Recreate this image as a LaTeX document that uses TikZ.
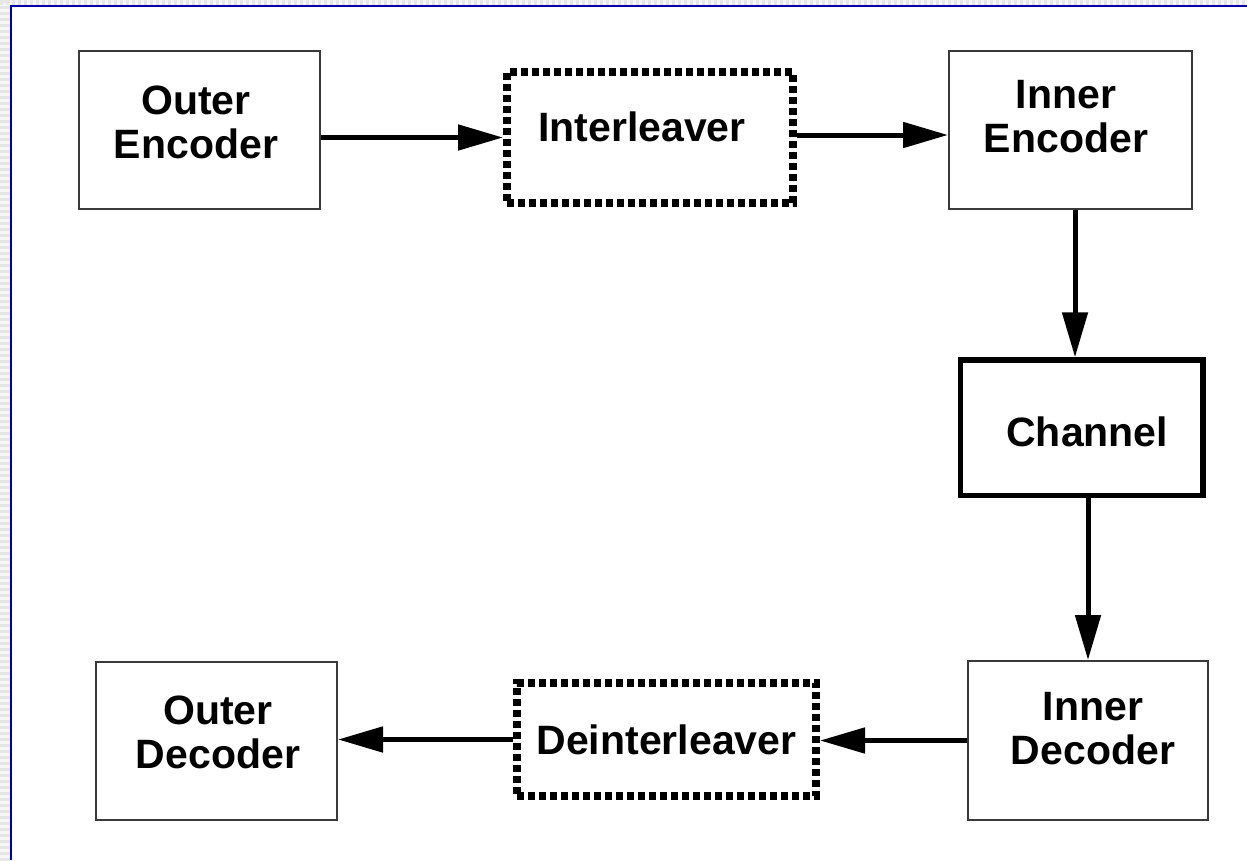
\documentclass[tikz,border=0pt]{standalone}
\usepackage{fontspec}
\setmainfont{Liberation Sans}
\usetikzlibrary{arrows.meta}
\definecolor{framebl}{HTML}{0000A8}
\definecolor{stripeA}{HTML}{E6E6E6}
\definecolor{stripeB}{HTML}{F6F6F6}
\definecolor{boxgray}{HTML}{3A3A3A}
\tikzset{
  thinbox/.style={draw=boxgray, line width=2pt, fill=white, inner sep=0pt},
  dotbox/.style={draw=black, line width=8pt, dash pattern=on 7pt off 4pt, inner sep=0pt},
  heavybox/.style={draw=black, line width=5.5pt, inner sep=0pt},
  txt/.style={font=\fontsize{41}{44}\selectfont\bfseries, align=center, inner sep=0pt},
  flow/.style={line width=5pt, -{Triangle[length=45pt, width=25pt]}}
}
\begin{document}
\begin{tikzpicture}[x=1pt, y=-1pt]
\useasboundingbox (0,0) rectangle (1247,860);
% striped margin strips and blue frame lines
\fill[stripeB] (0,0) rectangle (9.5,860);
\fill[stripeB] (0,0) rectangle (1247,4.5);
\foreach \s in {0,6,...,858} \fill[stripeA] (0,\s) rectangle (9.5,\s+2.5);
\foreach \s in {0,6,...,1246} \fill[stripeA] (\s,0) rectangle (\s+2.5,4.5);
\draw[framebl, line width=2.2pt] (10.6,860) -- (10.6,6) -- (1247,6);

% encoder chain
\node[thinbox, minimum width=241pt, minimum height=158pt,
  label={[txt, xshift=-3.5pt, yshift=8pt]center:Outer\\Encoder}] (oenc) at (199.5,130) {};
\node[dotbox, minimum width=286pt, minimum height=131pt,
  label={[txt, xshift=-8pt, yshift=10.5pt]center:Interleaver}] (intl) at (650,137.5) {};
\node[thinbox, minimum width=243pt, minimum height=158pt,
  label={[txt, xshift=-4.5pt, yshift=13.5pt]center:Inner\\Encoder}] (ienc) at (1070.5,130) {};

% channel
\node[heavybox, minimum width=242.5pt, minimum height=135.5pt,
  label={[txt, xshift=5.5pt, yshift=-4.5pt]center:Channel}] (chan) at (1081.75,427.75) {};

% decoder chain
\node[thinbox, minimum width=240pt, minimum height=159pt,
  label={[txt, xshift=5pt, yshift=12pt]center:Inner\\Decoder}] (idec) at (1088,740.5) {};
\node[dotbox, minimum width=299pt, minimum height=112.5pt,
  label={[txt]center:Deinterleaver}] (deint) at (666.5,739.5) {};
\node[thinbox, minimum width=241pt, minimum height=158pt,
  label={[txt, xshift=1.5pt, yshift=9pt]center:Outer\\Decoder}] (odec) at (216.5,741) {};

% connectors
\draw[flow] (oenc.east |- intl.west) -- (intl.west);
\draw[flow] ([yshift=2.5pt]intl.east) -- ([yshift=2.5pt]intl.east -| ienc.west);
\draw[flow] ([xshift=4.5pt]ienc.south) -- ([xshift=4.5pt]ienc.south |- chan.north);
\draw[flow] (chan.south -| idec.north) -- (idec.north);
\draw[flow] (idec.west) -- (idec.west -| deint.east);
\draw[flow] (deint.west) -- (deint.west -| odec.east);
\end{tikzpicture}
\end{document}
